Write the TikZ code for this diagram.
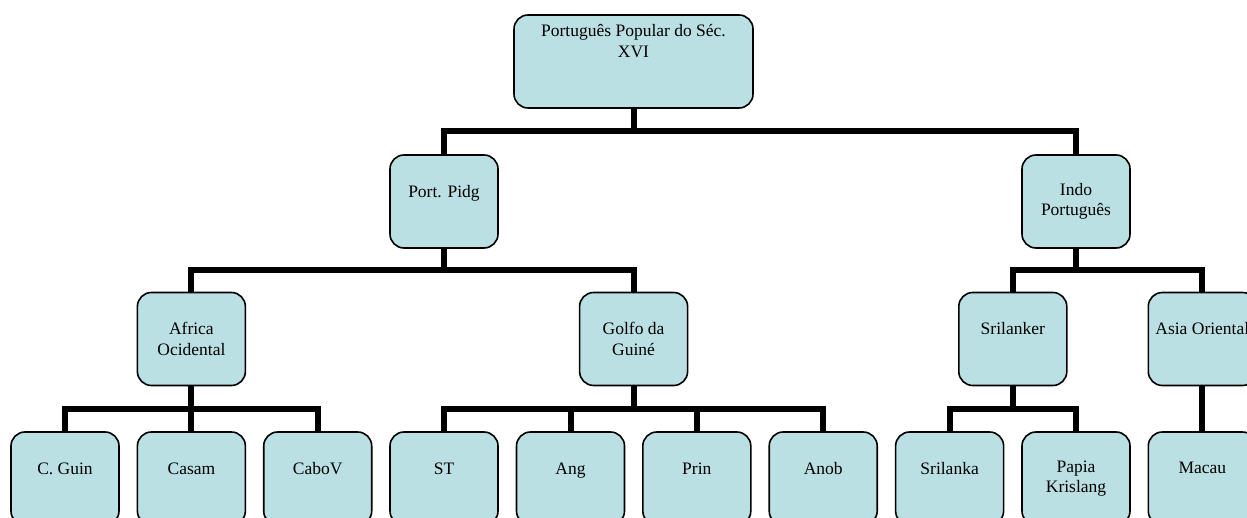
\documentclass[tikz,border=0pt]{standalone}
\usepackage{fontspec}
\setmainfont{Liberation Serif}
\usetikzlibrary{calc}
\definecolor{boxblue}{RGB}{187,224,227}
\newcommand{\orgfont}{\fontsize{17.5}{20.5}\selectfont}
\tikzset{
  orgbox/.style={draw, line width=1.6pt, fill=boxblue, rounded corners=14pt,
    minimum width=108pt, minimum height=93pt, inner sep=0pt, align=center, font=\orgfont},
  branch/.style={line width=6pt,
    to path={(\tikztostart) |- ($(\tikztostart)!.5!(\tikztotarget)$) -| (\tikztotarget)}}
}
\begin{document}
\begin{tikzpicture}[x=1pt,y=-1pt]
  \useasboundingbox (0,0) rectangle (1247,518);
  \clip (0,0) rectangle (1247,518);
  % root
  \node[orgbox,minimum width=239pt] (root) at (633.5,61.5) {Português Popular do Séc.\\XVI\\~\\~};
  % second level
  \node[orgbox] (pidg) at (444,201.5) {Port. Pidg\\~};
  \node[orgbox] (indo) at (1076,201.5) {Indo\\Português};
  % third level
  \node[orgbox] (africa) at (191.4,339) {Africa\\Ocidental};
  \node[orgbox] (golfo) at (633.6,339) {Golfo da\\Guiné};
  \node[orgbox] (srilanker) at (1012.8,339) {Srilanker\\~};
  \node[orgbox] (asia) at (1202.3,339) {Asia Oriental\\~};
  % fourth level
  \node[orgbox] (cguin) at (65,478.5) {C. Guin\\~};
  \node[orgbox] (casam) at (191.4,478.5) {Casam\\~};
  \node[orgbox] (cabov) at (317.7,478.5) {CaboV\\~};
  \node[orgbox] (st) at (444,478.5) {ST\\~};
  \node[orgbox] (ang) at (570.5,478.5) {Ang\\~};
  \node[orgbox] (prin) at (696.8,478.5) {Prin\\~};
  \node[orgbox] (anob) at (823.2,478.5) {Anob\\~};
  \node[orgbox] (srilanka) at (949.6,478.5) {Srilanka\\~};
  \node[orgbox] (papia) at (1076,478.5) {Papia\\Krislang};
  \node[orgbox] (macau) at (1202.3,478.5) {Macau\\~};
  % connectors
  \draw[branch] (root.south) to (pidg.north);
  \draw[branch] (root.south) to (indo.north);
  \draw[branch] (pidg.south) to (africa.north);
  \draw[branch] (pidg.south) to (golfo.north);
  \draw[branch] (indo.south) to (srilanker.north);
  \draw[branch] (indo.south) to (asia.north);
  \draw[branch] (africa.south) to (cguin.north);
  \draw[branch] (africa.south) to (casam.north);
  \draw[branch] (africa.south) to (cabov.north);
  \draw[branch] (golfo.south) to (st.north);
  \draw[branch] (golfo.south) to (ang.north);
  \draw[branch] (golfo.south) to (prin.north);
  \draw[branch] (golfo.south) to (anob.north);
  \draw[branch] (srilanker.south) to (srilanka.north);
  \draw[branch] (srilanker.south) to (papia.north);
  \draw[line width=6pt] (asia.south) -- (macau.north);
\end{tikzpicture}
\end{document}
